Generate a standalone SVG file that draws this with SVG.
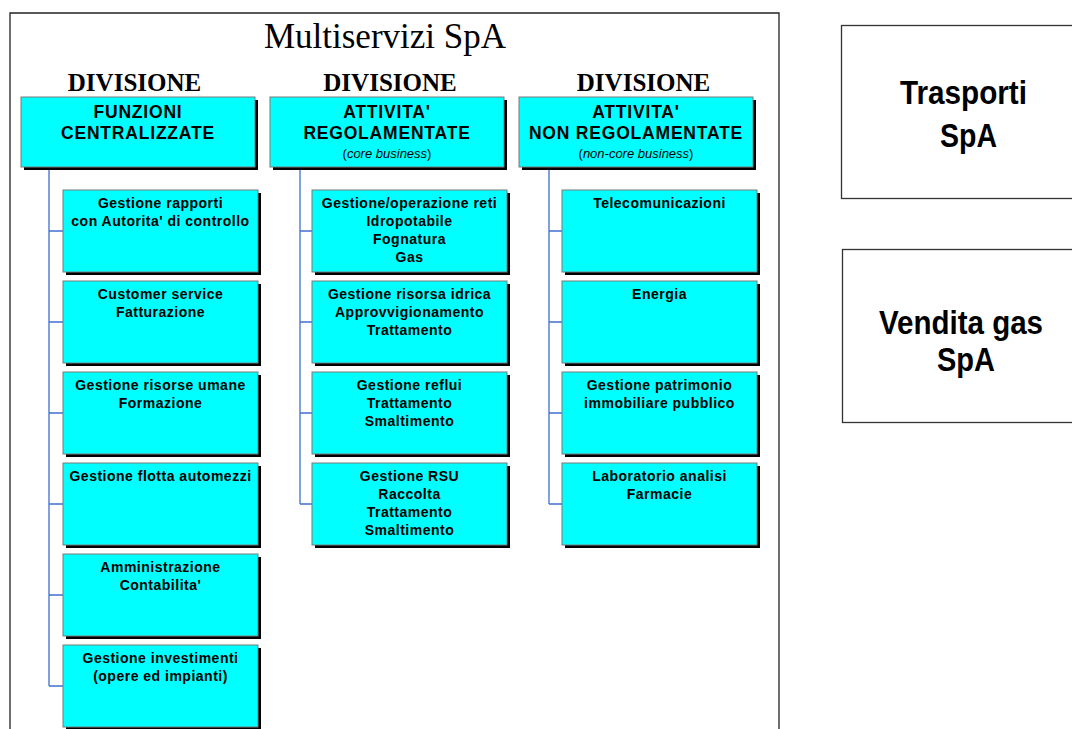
<svg xmlns="http://www.w3.org/2000/svg" width="1072" height="729" viewBox="0 0 1072 729">
<style>
.frame{fill:none;stroke:#222;stroke-width:1.3}
.sh{fill:#000}
.bx{fill:#00ffff;stroke:#7a7a7a;stroke-width:1}
.co{fill:#fff;stroke:#333;stroke-width:1.3}
.conn{fill:none;stroke:#3f6fd0;stroke-width:1.3}
.title{font-family:"Liberation Serif",serif;font-size:35px;fill:#000}
.div{font-family:"Liberation Serif",serif;font-size:25px;font-weight:bold;fill:#000}
.hd{font-family:"Liberation Sans",Arial,sans-serif;font-size:17.5px;font-weight:bold;letter-spacing:0.8px;fill:#000}
.sub{font-family:"Liberation Sans",Arial,sans-serif;font-size:13px;fill:#000}
.it{font-style:italic}
.t{font-family:"Liberation Sans",Arial,sans-serif;font-size:14px;font-weight:bold;letter-spacing:0.5px;fill:#000}
.big{font-family:"Liberation Sans",Arial,sans-serif;font-size:34px;font-weight:bold;fill:#000}
</style>
<rect width="1072" height="729" fill="#fff"/>
<path class="frame" d="M10,729 V13 H779 V729"/>
<text class="title" x="385" y="48" text-anchor="middle">Multiservizi SpA</text>
<text class="div" x="134.5" y="91" text-anchor="middle">DIVISIONE</text>
<text class="div" x="390" y="91" text-anchor="middle">DIVISIONE</text>
<text class="div" x="643.5" y="91" text-anchor="middle">DIVISIONE</text>

<g id="connectors">
<path class="conn" d="M49,167 V686 M49,231 H63 M49,322 H63 M49,413 H63 M49,504 H63 M49,595 H63 M49,686 H63"/>
<path class="conn" d="M300,167 V504 M300,231 H312 M300,322 H312 M300,413 H312 M300,504 H312"/>
<path class="conn" d="M549,167 V504 M549,231 H562 M549,322 H562 M549,413 H562 M549,504 H562"/>
</g>

<g id="h1"><rect class="sh" x="24" y="100" width="234" height="70"/><rect class="bx" x="21" y="97" width="234" height="70"/>
<text class="hd" x="138" y="118" text-anchor="middle">FUNZIONI</text><text class="hd" x="138" y="139" text-anchor="middle">CENTRALIZZATE</text></g>
<g id="h2"><rect class="sh" x="273" y="100" width="234" height="70"/><rect class="bx" x="270" y="97" width="234" height="70"/>
<text class="hd" x="387" y="118" text-anchor="middle">ATTIVITA'</text><text class="hd" x="387" y="139" text-anchor="middle">REGOLAMENTATE</text>
<text class="sub" x="387" y="158" text-anchor="middle">(<tspan class="it">core business</tspan>)</text></g>
<g id="h3"><rect class="sh" x="522" y="100" width="234" height="70"/><rect class="bx" x="519" y="97" width="234" height="70"/>
<text class="hd" x="636" y="118" text-anchor="middle">ATTIVITA'</text><text class="hd" x="636" y="139" text-anchor="middle">NON REGOLAMENTATE</text>
<text class="sub" x="636" y="158" text-anchor="middle">(<tspan class="it">non-core business</tspan>)</text></g>

<g id="c1a"><rect class="sh" x="66" y="193" width="195" height="82"/><rect class="bx" x="63" y="190" width="195" height="82"/>
<text class="t" x="160.5" y="207.5" text-anchor="middle">Gestione rapporti</text><text class="t" x="160.5" y="225.5" text-anchor="middle">con Autorita' di controllo</text></g>
<g id="c1b"><rect class="sh" x="66" y="284" width="195" height="82"/><rect class="bx" x="63" y="281" width="195" height="82"/>
<text class="t" x="160.5" y="298.5" text-anchor="middle">Customer service</text><text class="t" x="160.5" y="316.5" text-anchor="middle">Fatturazione</text></g>
<g id="c1c"><rect class="sh" x="66" y="375" width="195" height="82"/><rect class="bx" x="63" y="372" width="195" height="82"/>
<text class="t" x="160.5" y="389.5" text-anchor="middle">Gestione risorse umane</text><text class="t" x="160.5" y="407.5" text-anchor="middle">Formazione</text></g>
<g id="c1d"><rect class="sh" x="66" y="466" width="195" height="82"/><rect class="bx" x="63" y="463" width="195" height="82"/>
<text class="t" x="160.5" y="480.5" text-anchor="middle">Gestione flotta automezzi</text></g>
<g id="c1e"><rect class="sh" x="66" y="557" width="195" height="82"/><rect class="bx" x="63" y="554" width="195" height="82"/>
<text class="t" x="160.5" y="571.5" text-anchor="middle">Amministrazione</text><text class="t" x="160.5" y="589.5" text-anchor="middle">Contabilita'</text></g>
<g id="c1f"><rect class="sh" x="66" y="648" width="195" height="82"/><rect class="bx" x="63" y="645" width="195" height="82"/>
<text class="t" x="160.5" y="662.5" text-anchor="middle">Gestione investimenti</text><text class="t" x="160.5" y="680.5" text-anchor="middle">(opere ed impianti)</text></g>

<g id="c2a"><rect class="sh" x="315" y="193" width="195" height="82"/><rect class="bx" x="312" y="190" width="195" height="82"/>
<text class="t" x="409.5" y="207.5" text-anchor="middle">Gestione/operazione reti</text><text class="t" x="409.5" y="225.5" text-anchor="middle">Idropotabile</text><text class="t" x="409.5" y="243.5" text-anchor="middle">Fognatura</text><text class="t" x="409.5" y="261.5" text-anchor="middle">Gas</text></g>
<g id="c2b"><rect class="sh" x="315" y="284" width="195" height="82"/><rect class="bx" x="312" y="281" width="195" height="82"/>
<text class="t" x="409.5" y="298.5" text-anchor="middle">Gestione risorsa idrica</text><text class="t" x="409.5" y="316.5" text-anchor="middle">Approvvigionamento</text><text class="t" x="409.5" y="334.5" text-anchor="middle">Trattamento</text></g>
<g id="c2c"><rect class="sh" x="315" y="375" width="195" height="82"/><rect class="bx" x="312" y="372" width="195" height="82"/>
<text class="t" x="409.5" y="389.5" text-anchor="middle">Gestione reflui</text><text class="t" x="409.5" y="407.5" text-anchor="middle">Trattamento</text><text class="t" x="409.5" y="425.5" text-anchor="middle">Smaltimento</text></g>
<g id="c2d"><rect class="sh" x="315" y="466" width="195" height="82"/><rect class="bx" x="312" y="463" width="195" height="82"/>
<text class="t" x="409.5" y="480.5" text-anchor="middle">Gestione RSU</text><text class="t" x="409.5" y="498.5" text-anchor="middle">Raccolta</text><text class="t" x="409.5" y="516.5" text-anchor="middle">Trattamento</text><text class="t" x="409.5" y="534.5" text-anchor="middle">Smaltimento</text></g>

<g id="c3a"><rect class="sh" x="565" y="193" width="195" height="82"/><rect class="bx" x="562" y="190" width="195" height="82"/>
<text class="t" x="659.5" y="207.5" text-anchor="middle">Telecomunicazioni</text></g>
<g id="c3b"><rect class="sh" x="565" y="284" width="195" height="82"/><rect class="bx" x="562" y="281" width="195" height="82"/>
<text class="t" x="659.5" y="298.5" text-anchor="middle">Energia</text></g>
<g id="c3c"><rect class="sh" x="565" y="375" width="195" height="82"/><rect class="bx" x="562" y="372" width="195" height="82"/>
<text class="t" x="659.5" y="389.5" text-anchor="middle">Gestione patrimonio</text><text class="t" x="659.5" y="407.5" text-anchor="middle">immobiliare pubblico</text></g>
<g id="c3d"><rect class="sh" x="565" y="466" width="195" height="82"/><rect class="bx" x="562" y="463" width="195" height="82"/>
<text class="t" x="659.5" y="480.5" text-anchor="middle">Laboratorio analisi</text><text class="t" x="659.5" y="498.5" text-anchor="middle">Farmacie</text></g>

<g id="trasporti"><rect class="co" x="841.5" y="25.5" width="240" height="173"/>
<text class="big" x="963.5" y="104" text-anchor="middle" textLength="127" lengthAdjust="spacingAndGlyphs">Trasporti</text>
<text class="big" x="968.5" y="147" text-anchor="middle" textLength="57" lengthAdjust="spacingAndGlyphs">SpA</text></g>
<g id="vendita"><rect class="co" x="842.5" y="249.5" width="240" height="173"/>
<text class="big" x="961" y="334" text-anchor="middle" textLength="164" lengthAdjust="spacingAndGlyphs">Vendita gas</text>
<text class="big" x="966" y="371" text-anchor="middle" textLength="58" lengthAdjust="spacingAndGlyphs">SpA</text></g>
</svg>
